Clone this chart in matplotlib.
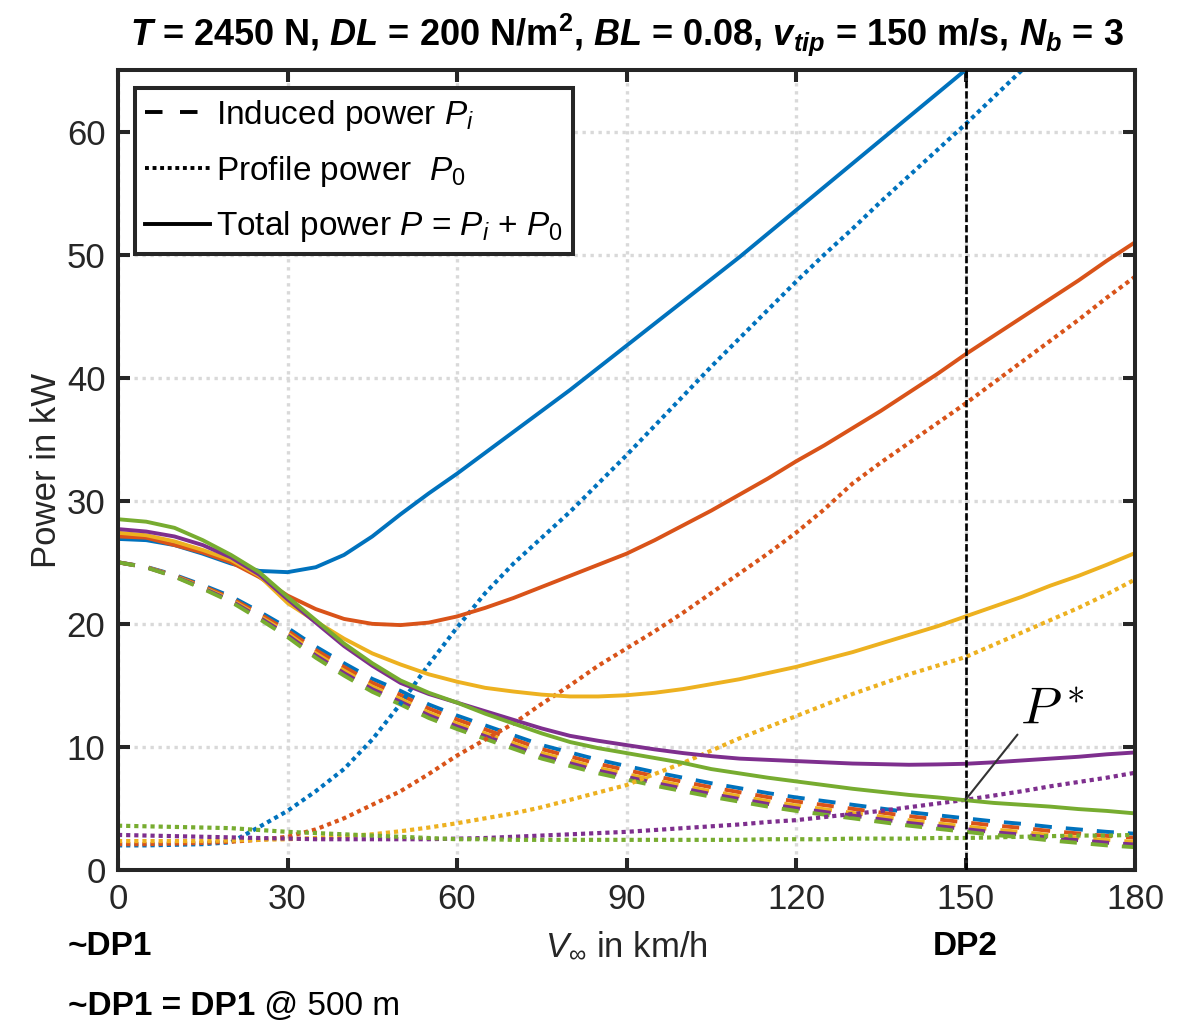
import numpy as np
import matplotlib
matplotlib.use("Agg")
import matplotlib.pyplot as plt
from matplotlib.lines import Line2D
from matplotlib.transforms import blended_transform_factory

plt.rcParams['font.family'] = ['Liberation Sans', 'DejaVu Sans']
plt.rcParams['mathtext.fontset'] = 'custom'
plt.rcParams['mathtext.rm'] = 'Liberation Sans'
plt.rcParams['mathtext.it'] = 'Liberation Sans:italic'
plt.rcParams['mathtext.bf'] = 'Liberation Sans:bold'
try:
    plt.rcParams['mathtext.bfit'] = 'Liberation Sans:bold:italic'
except KeyError:
    pass

nan = np.nan

# flight speed in km/h
speed = np.arange(0, 185, 5)

# induced power P_i in kW (dashed)
ind_blue = [25.0, 24.63, 23.98, 23.15, 22.23, 21.0, 19.68, 18.15, 16.8, 15.53, 14.55, 13.45, 12.55,
            11.75, 10.95, 10.15, 9.55, 8.95, 8.45, 7.95, 7.5, 7.05, 6.65, 6.25, 5.9, 5.6, 5.3, 5.0,
            4.7, 4.45, 4.2, 3.95, 3.75, 3.5, 3.3, 3.1, 2.95]
ind_orange = [25.0, 24.61, 23.93, 23.06, 22.09, 20.82, 19.45, 17.88, 16.5, 15.21, 14.22, 13.12, 12.22,
              11.42, 10.62, 9.82, 9.22, 8.62, 8.12, 7.62, 7.17, 6.72, 6.32, 5.92, 5.57, 5.27, 4.97,
              4.67, 4.37, 4.12, 3.87, 3.62, 3.42, 3.17, 2.97, 2.77, 2.62]
ind_yellow = [25.0, 24.6, 23.89, 22.97, 21.96, 20.64, 19.23, 17.61, 16.2, 14.9, 13.89, 12.79, 11.89,
              11.09, 10.29, 9.49, 8.89, 8.29, 7.79, 7.29, 6.84, 6.39, 5.99, 5.59, 5.24, 4.94, 4.64,
              4.34, 4.04, 3.79, 3.54, 3.29, 3.09, 2.84, 2.64, 2.44, 2.29]
ind_purple = [25.0, 24.59, 23.86, 22.91, 21.87, 20.52, 19.08, 17.43, 16.0, 14.69, 13.67, 12.57, 11.67,
              10.87, 10.07, 9.27, 8.67, 8.07, 7.57, 7.07, 6.62, 6.17, 5.77, 5.37, 5.02, 4.72, 4.42,
              4.12, 3.82, 3.57, 3.32, 3.07, 2.87, 2.62, 2.42, 2.22, 2.07]
ind_green = [25.0, 24.58, 23.83, 22.85, 21.78, 20.4, 18.93, 17.25, 15.8, 14.48, 13.45, 12.35, 11.45,
             10.65, 9.85, 9.05, 8.45, 7.85, 7.35, 6.85, 6.4, 5.95, 5.55, 5.15, 4.8, 4.5, 4.2, 3.9,
             3.6, 3.35, 3.1, 2.85, 2.65, 2.4, 2.2, 2.0, 1.85]

# profile power P_0 in kW (dotted)
pro_blue = [2.0, 2.0, 2.05, 2.1, 2.25, 3.5, 4.8, 6.4, 8.2, 10.6, 13.5, 16.7, 19.7, 22.5, 24.9, 27.0,
            29.1, 31.4, 33.7, 36.1, 38.5, 40.9, 43.2, 45.5, 47.8, 50.0, 52.1, 54.3, 56.4, 58.5, 60.6,
            62.8, 65.0, 67.2, nan, nan, nan]
pro_orange = [2.1, 2.1, 2.15, 2.2, 2.3, 2.45, 2.7, 3.3, 4.2, 5.3, 6.4, 7.8, 9.3, 10.6, 11.9, 13.5,
              15.0, 16.6, 18.0, 19.4, 20.9, 22.5, 24.1, 25.7, 27.4, 29.3, 31.4, 33.1, 34.7, 36.3,
              37.9, 39.6, 41.3, 43.0, 44.7, 46.5, 48.2]
pro_yellow = [2.35, 2.35, 2.35, 2.35, 2.4, 2.45, 2.5, 2.6, 2.75, 2.9, 3.15, 3.45, 3.8, 4.2, 4.6, 5.1,
              5.7, 6.3, 6.9, 7.8, 8.7, 9.7, 10.7, 11.6, 12.5, 13.4, 14.3, 15.1, 15.9, 16.6, 17.3,
              18.3, 19.3, 20.3, 21.3, 22.4, 23.6]
pro_purple = [2.85, 2.8, 2.75, 2.7, 2.65, 2.6, 2.55, 2.5, 2.5, 2.5, 2.5, 2.5, 2.55, 2.6, 2.7, 2.8,
              2.9, 3.0, 3.1, 3.25, 3.4, 3.55, 3.7, 3.9, 4.05, 4.3, 4.55, 4.8, 5.1, 5.4, 5.7, 6.05,
              6.4, 6.8, 7.15, 7.5, 7.9]
pro_green = [3.6, 3.55, 3.5, 3.45, 3.4, 3.25, 3.1, 3.0, 2.9, 2.8, 2.7, 2.6, 2.5, 2.5, 2.45, 2.45,
             2.45, 2.45, 2.45, 2.45, 2.45, 2.45, 2.45, 2.5, 2.5, 2.5, 2.55, 2.55, 2.55, 2.6, 2.6,
             2.65, 2.7, 2.75, 2.8, 2.8, 2.85]

# total power P in kW (solid)
tot_blue = [26.9, 26.8, 26.4, 25.7, 24.9, 24.3, 24.2, 24.6, 25.6, 27.1, 28.9, 30.6, 32.2, 33.9, 35.6,
            37.3, 39.0, 40.8, 42.6, 44.4, 46.2, 48.0, 49.8, 51.7, 53.6, 55.5, 57.4, 59.3, 61.2,
            63.1, 65.0, 67.0, nan, nan, nan, nan, nan]
tot_orange = [27.1, 27.0, 26.4, 25.8, 25.0, 23.8, 22.3, 21.2, 20.4, 20.0, 19.9, 20.1, 20.6, 21.3,
              22.1, 23.0, 23.9, 24.8, 25.7, 26.8, 28.0, 29.2, 30.5, 31.8, 33.2, 34.5, 35.9, 37.3,
              38.8, 40.3, 41.9, 43.4, 44.9, 46.4, 47.9, 49.5, 51.0]
tot_yellow = [27.4, 27.2, 26.7, 26.0, 25.2, 23.9, 21.7, 20.2, 18.8, 17.6, 16.7, 15.9, 15.3, 14.8,
              14.5, 14.25, 14.1, 14.1, 14.2, 14.4, 14.7, 15.1, 15.5, 16.0, 16.5, 17.1, 17.7, 18.4,
              19.1, 19.8, 20.6, 21.4, 22.2, 23.1, 23.9, 24.8, 25.75]
tot_purple = [27.7, 27.5, 27.1, 26.4, 25.4, 24.0, 22.0, 20.1, 18.2, 16.6, 15.2, 14.3, 13.6, 12.9,
              12.2, 11.5, 10.9, 10.5, 10.15, 9.8, 9.5, 9.25, 9.05, 8.95, 8.85, 8.75, 8.65, 8.6,
              8.55, 8.58, 8.63, 8.75, 8.9, 9.05, 9.2, 9.4, 9.55]
tot_green = [28.5, 28.3, 27.8, 26.8, 25.6, 24.2, 22.2, 20.3, 18.4, 16.8, 15.4, 14.4, 13.6, 12.7,
             11.9, 11.1, 10.4, 9.9, 9.5, 9.1, 8.7, 8.2, 7.85, 7.5, 7.2, 6.9, 6.6, 6.35, 6.1, 5.9,
             5.67, 5.45, 5.3, 5.15, 4.95, 4.8, 4.6]

colors = ['#0072BD', '#D95319', '#EDB120', '#7E2F8E', '#77AC30']
induced = [ind_blue, ind_orange, ind_yellow, ind_purple, ind_green]
profile = [pro_blue, pro_orange, pro_yellow, pro_purple, pro_green]
total = [tot_blue, tot_orange, tot_yellow, tot_purple, tot_green]

design_speed = 150
p_star = 5.7

lw = 2.8
dash_style = (0, (4.4, 3.6))
dot_style = (0, (1.0, 0.95))
ink = '#262626'

fig = plt.figure(figsize=(11.83, 10.21), dpi=100)
ax = fig.add_axes([118 / 1183, 151 / 1021, 1017 / 1183, 800 / 1021])

for c, y in zip(colors, induced):
    ax.plot(speed, y, color=c, lw=lw, ls=dash_style, dash_capstyle='butt', zorder=2)
for c, y in zip(colors, profile):
    ax.plot(speed, y, color=c, lw=3.0, ls=dot_style, dash_capstyle='butt', zorder=2)
for c, y in zip(colors, total):
    ax.plot(speed, y, color=c, lw=lw, zorder=2)

ax.axvline(design_speed, color='k', lw=1.9, ls=(0, (2.8, 1.1)), zorder=3)

ax.annotate('', xy=(design_speed, p_star), xytext=(159.2, 11.0),
            arrowprops=dict(arrowstyle='-', color='#333333', lw=1.5, shrinkA=0, shrinkB=0))
ax.text(159.6, 11.8, r'$P^*$', fontsize=38, math_fontfamily='cm', ha='left', va='baseline')

ax.set_xlim(0, 180)
ax.set_ylim(0, 65)
ax.set_xticks(np.arange(0, 181, 30))
ax.set_yticks(np.arange(0, 61, 10))
ax.grid(True, color='#d9d9d9', ls=(0, (1, 1.4)), lw=2.4)
ax.set_axisbelow(True)
ax.tick_params(direction='in', length=8.6, width=2.9, top=True, right=True,
               labelsize=25, colors=ink, pad=9)
for sp in ax.spines.values():
    sp.set_linewidth(2.9)
    sp.set_color(ink)

ax.set_ylabel('Power in kW', fontsize=25, color=ink, labelpad=3)

handles = [Line2D([], [], color='k', lw=lw, ls=(0, (4.5, 4.5)), dash_capstyle='butt'),
           Line2D([], [], color='k', lw=lw, ls=dot_style, dash_capstyle='butt'),
           Line2D([], [], color='k', lw=lw)]
labels = [r'Induced power $P_i$', r'Profile power  $P_{\mathit{0}}$',
          r'Total power $P$ = $P_i$ + $P_{\mathit{0}}$']
leg = ax.legend(handles, labels, loc='upper left', bbox_to_anchor=(0.0167, 0.9775),
                borderaxespad=0, fontsize=24, handlelength=1.95, handletextpad=0.18,
                borderpad=0.3, labelspacing=0.62, fancybox=False, framealpha=1)
leg.get_frame().set_edgecolor(ink)
leg.get_frame().set_linewidth(2.9)

title = (r'$\mathbfit{T}$ = 2450 N, $\mathbfit{DL}$ = 200 N/m$^{\mathbf{2}}$, '
         r'$\mathbfit{BL}$ = 0.08, $\mathbfit{v}_{\mathbfit{tip}}$ = 150 m/s, '
         r'$\mathbfit{N}_{\mathbfit{b}}$ = 3')
fig.text(627 / 1183, 1 - 45 / 1021, title, fontsize=26, fontweight='bold',
         ha='center', va='baseline')

fig.text(626.5 / 1183, 1 - 955 / 1021, r'$V_{\infty}$ in km/h', fontsize=25, color=ink,
         ha='center', va='baseline')
fig.text(68 / 1183, 1 - 955 / 1021, '~DP1', fontsize=24, fontweight='bold', va='baseline')
trans = blended_transform_factory(ax.transData, fig.transFigure)
ax.text(design_speed, 1 - 955 / 1021, 'DP2', transform=trans, fontsize=24,
        fontweight='bold', ha='center', va='baseline')

t1 = fig.text(68 / 1183, 1 - 1015 / 1021, '~DP1 = DP1', fontsize=24, fontweight='bold',
              va='baseline')
fig.canvas.draw()
bb = t1.get_window_extent()
fig.text(bb.x1 / fig.bbox.width, 1 - 1015 / 1021, ' @ 500 m', fontsize=24, va='baseline')

fig.savefig('out.png', dpi=100)
